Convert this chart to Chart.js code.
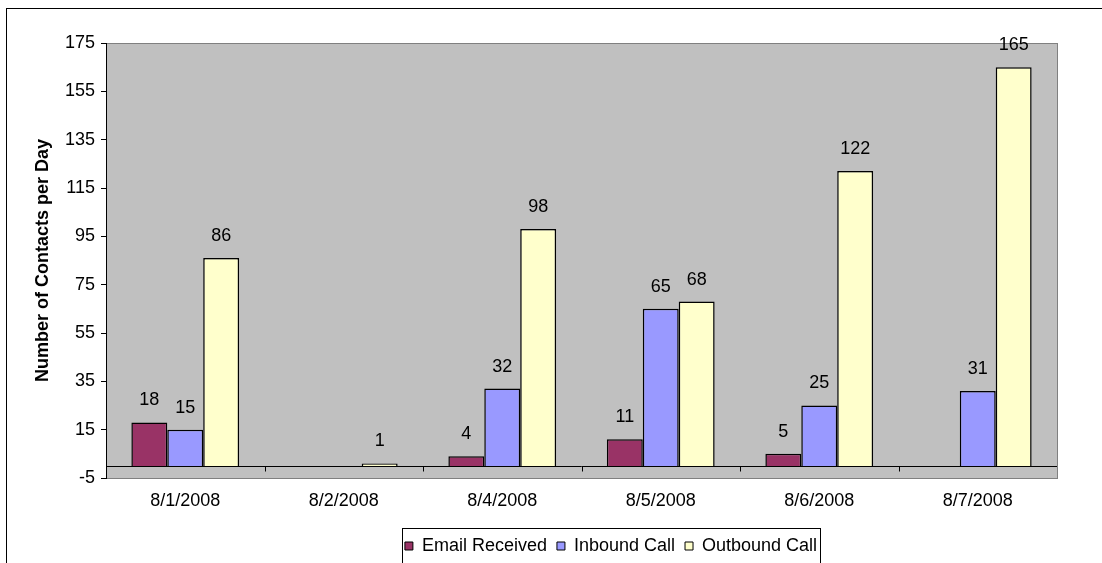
<!DOCTYPE html>
<html>
<head>
<meta charset="utf-8">
<script src="https://cdn.jsdelivr.net/npm/chart.js@4.4.0/dist/chart.umd.min.js"></script>
<style>
  html, body { margin: 0; padding: 0; background: #fff; }
  #wrap { width: 1102px; height: 563px; }
</style>
</head>
<body>
<div id="wrap"><canvas id="contactsChart" width="1102" height="563"></canvas></div>
<script>
    // data
    const days = ['8/1/2008', '8/2/2008', '8/4/2008', '8/5/2008', '8/6/2008', '8/7/2008'];
    const emailReceived = [18, null, 4, 11, 5, null];
    const inboundCall = [15, null, 32, 65, 25, 31];
    const outboundCall = [86, 1, 98, 68, 122, 165];
    const yTicks = [-5, 15, 35, 55, 75, 95, 115, 135, 155, 175];

    const fontFamily = '"Liberation Sans", Arial, sans-serif';

    // grey plot area, outer frame, zero axis, value labels, legend box
    const backdrop = {
        id: 'backdrop',
        afterLayout(chart) {
            // legend sits right of centre in the original
            chart.legend.left += 133;
        },
        beforeDraw(chart) {
            const ctx = chart.ctx;
            const a = chart.chartArea;
            ctx.save();
            ctx.strokeStyle = '#000';
            ctx.lineWidth = 1;
            ctx.strokeRect(6.5, 8.5, 1300, 700);
            ctx.fillStyle = '#C0C0C0';
            ctx.fillRect(a.left, a.top, a.right - a.left, a.bottom - a.top);
            ctx.strokeStyle = '#808080';
            ctx.strokeRect(a.left + 0.5, a.top + 0.5, a.right - a.left, a.bottom - a.top);
            ctx.restore();
        },
        beforeDatasetsDraw(chart) {
            const ctx = chart.ctx;
            const a = chart.chartArea;
            const x = chart.scales.x;
            const y0 = Math.round(chart.scales.y.getPixelForValue(0)) + 0.5;
            ctx.save();
            ctx.strokeStyle = '#000';
            ctx.lineWidth = 1;
            ctx.beginPath();
            ctx.moveTo(a.left, y0);
            ctx.lineTo(a.right, y0);
            const half = (x.getPixelForValue(1) - x.getPixelForValue(0)) / 2;
            for (let i = 1; i < days.length; i++) {
                const px = Math.round(x.getPixelForValue(i) - half) + 0.5;
                ctx.moveTo(px, y0);
                ctx.lineTo(px, y0 + 5);
            }
            ctx.stroke();
            ctx.restore();
        },
        afterDatasetsDraw(chart) {
            const ctx = chart.ctx;
            ctx.save();
            ctx.fillStyle = '#000';
            ctx.font = '18px ' + fontFamily;
            ctx.textAlign = 'center';
            ctx.textBaseline = 'middle';
            chart.data.datasets.forEach((ds, i) => {
                chart.getDatasetMeta(i).data.forEach((bar, j) => {
                    const v = ds.data[j];
                    if (v === null) return;
                    ctx.fillText(String(v), bar.x, bar.y - 22);
                });
            });
            ctx.restore();
        },
        afterDraw(chart) {
            const ctx = chart.ctx;
            ctx.save();
            ctx.strokeStyle = '#000';
            ctx.lineWidth = 1;
            ctx.strokeRect(402.5, 528.5, 418, 100);
            ctx.restore();
        }
    };

    const ctx = document.getElementById('contactsChart').getContext('2d');
    const contactsChart = new Chart(ctx, {
        type: 'bar',
        data: {
            labels: days,
            datasets: [{
                label: 'Email Received',
                data: emailReceived,
                backgroundColor: '#993366',
                borderColor: '#000',
                borderWidth: 1.5
            }, {
                label: 'Inbound Call',
                data: inboundCall,
                backgroundColor: '#9999FF',
                borderColor: '#000',
                borderWidth: 1.5
            }, {
                label: 'Outbound Call',
                data: outboundCall,
                backgroundColor: '#FFFFCC',
                borderColor: '#000',
                borderWidth: 1.5
            }]
        },
        options: {
            responsive: false,
            animation: false,
            layout: {
                padding: { left: 32, top: 43, right: 45, bottom: -2 }
            },
            datasets: {
                bar: {
                    categoryPercentage: 0.68,
                    barPercentage: 1
                }
            },
            scales: {
                x: {
                    grid: { display: false },
                    border: { display: false },
                    ticks: {
                        color: '#000',
                        padding: 4,
                        font: { family: fontFamily, size: 18 }
                    },
                    afterFit(scale) { scale.height = 49; }
                },
                y: {
                    min: -5,
                    max: 175,
                    afterBuildTicks(scale) {
                        scale.ticks = yTicks.map(v => ({ value: v }));
                    },
                    grid: {
                        drawOnChartArea: false,
                        drawTicks: true,
                        tickLength: 5,
                        color: '#000'
                    },
                    border: { display: true, color: '#000' },
                    ticks: {
                        color: '#000',
                        padding: 6,
                        font: { family: fontFamily, size: 18 }
                    },
                    title: {
                        display: true,
                        text: 'Number of Contacts per Day',
                        color: '#000',
                        padding: 0,
                        font: { family: fontFamily, size: 18, weight: 'bold' }
                    },
                    afterFit(scale) { scale.width = 74; }
                }
            },
            plugins: {
                legend: {
                    position: 'bottom',
                    labels: {
                        color: '#000',
                        boxWidth: 8,
                        boxHeight: 8,
                        padding: 10,
                        font: { family: fontFamily, size: 18 },
                        generateLabels(chart) {
                            return chart.data.datasets.map((ds, i) => ({
                                text: ds.label,
                                fillStyle: ds.backgroundColor,
                                strokeStyle: '#000',
                                lineWidth: 1,
                                fontColor: '#000',
                                datasetIndex: i
                            }));
                        }
                    }
                },
                tooltip: { enabled: false }
            }
        },
        plugins: [backdrop]
    });
</script>
</body>
</html>
